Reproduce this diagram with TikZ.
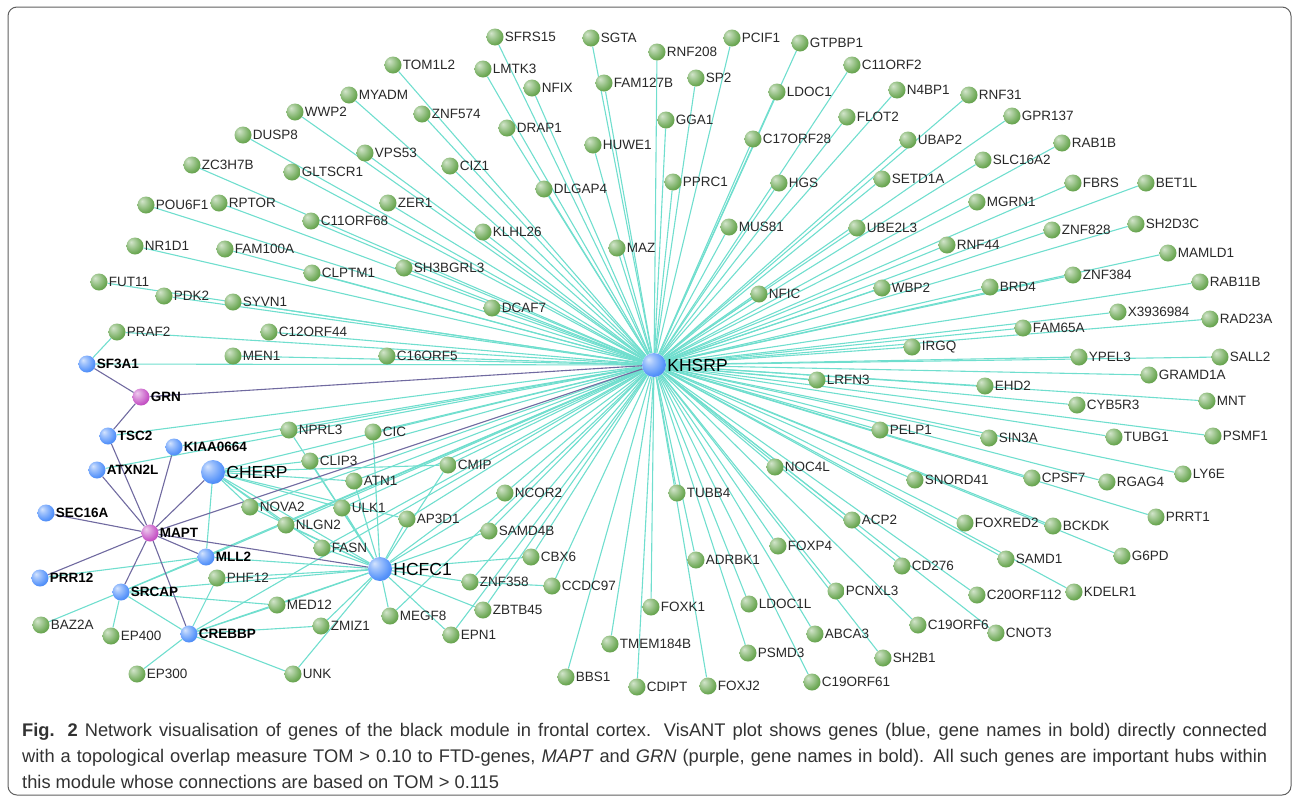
\documentclass[tikz,border=0pt]{standalone}
\usepackage{fontspec}
\setmainfont{Liberation Sans}
\usetikzlibrary{backgrounds}

\definecolor{tomcyan}{RGB}{112,222,206}
\definecolor{ftdline}{RGB}{112,106,160}
\definecolor{genegreen}{RGB}{108,168,84}
\definecolor{hubblue}{RGB}{84,146,250}
\definecolor{ftdpink}{RGB}{198,84,198}
\definecolor{labgray}{RGB}{40,40,40}
\definecolor{capgray}{RGB}{50,50,50}
\definecolor{framegray}{RGB}{95,95,95}

% sphere shadings, light spot at the upper left
\pgfdeclareradialshading{greenball}{\pgfpoint{-12bp}{12bp}}{color(0bp)=(white!70!genegreen); color(10bp)=(genegreen!55!white); color(28bp)=(genegreen); color(45bp)=(genegreen!78!black); color(65bp)=(genegreen!55!black)}
\pgfdeclareradialshading{blueball}{\pgfpoint{-12bp}{12bp}}{color(0bp)=(white!75!hubblue); color(10bp)=(hubblue!55!white); color(28bp)=(hubblue); color(45bp)=(hubblue!82!black); color(65bp)=(hubblue!60!black)}
\pgfdeclareradialshading{pinkball}{\pgfpoint{-12bp}{12bp}}{color(0bp)=(white!70!ftdpink); color(10bp)=(ftdpink!55!white); color(28bp)=(ftdpink); color(45bp)=(ftdpink!78!black); color(65bp)=(ftdpink!55!black)}

\tikzset{
  gene/.style={circle, inner sep=0pt, minimum size=17pt, shading=greenball},
  hub/.style={gene, shading=blueball},
  bighub/.style={hub, minimum size=24pt},
  ftd/.style={gene, shading=pinkball},
  glab/.style={font=\fontsize{13.5}{13.5}\selectfont, text=labgray, inner sep=1pt},
  hlab/.style={font=\fontsize{13.5}{13.5}\selectfont\bfseries, text=black, inner sep=1pt},
  biglab/.style={font=\fontsize{17.5}{17.5}\selectfont, text=black, inner sep=1pt},
  tom/.style={draw=tomcyan, line width=1.1pt},
  ftdedge/.style={draw=ftdline, line width=1.1pt},
  captext/.style={anchor=base west, inner sep=0pt, text=capgray, font=\fontsize{18.3}{26}\selectfont}
}

\begin{document}
\begin{tikzpicture}[x=1pt, y=-1pt]
  \useasboundingbox (0,0) rectangle (1298,801);
  \draw[framegray, line width=1pt, rounded corners=9pt] (8,7) rectangle (1291,795);

  % green genes
  \foreach \n/\x/\y in {TOM1L2/393/65, MYADM/349/95, WWP2/295/112, DUSP8/243/135, ZC3H7B/192/165,
      GLTSCR1/292/172, VPS53/365/153, ZNF574/422/114, CIZ1/450/166, ZER1/388/203, POU6F1/146/205,
      RPTOR/219/203, C11ORF68/311/221, NR1D1/135/246, FAM100A/225/249, SH3BGRL3/404/268,
      CLPTM1/312/273, KLHL26/483/232, SFRS15/495/37, LMTK3/483/69, NFIX/532/88, SGTA/591/38,
      FAM127B/604/83, RNF208/657/52, SP2/696/78, PCIF1/732/38, GTPBP1/800/43, LDOC1/777/92,
      GGA1/666/120, DRAP1/507/128, HUWE1/593/145, C17ORF28/753/139, DLGAP4/544/189, PPRC1/673/182,
      HGS/779/183, MUS81/729/227, MAZ/617/248, C11ORF2/852/65, FLOT2/847/117, UBE2L3/857/228,
      N4BP1/897/90, RNF31/969/95, GPR137/1012/116, UBAP2/908/140, RAB1B/1062/143, SLC16A2/983/160,
      SETD1A/882/179, FBRS/1073/183, BET1L/1146/183, MGRN1/977/202, ZNF828/1052/230, SH2D3C/1136/224,
      RNF44/947/245, MAMLD1/1168/253, WBP2/882/288, BRD4/990/287, ZNF384/1073/275, RAB11B/1200/282,
      X3936984/1118/312, RAD23A/1210/319, FAM65A/1023/328, IRGQ/912/347, YPEL3/1079/357,
      SALL2/1220/357, GRAMD1A/1149/375, EHD2/985/386, MNT/1207/401, CYB5R3/1077/405, PELP1/880/430,
      SIN3A/989/438, TUBG1/1114/437, PSMF1/1213/436, LY6E/1183/474, SNORD41/915/480, CPSF7/1032/478,
      RGAG4/1107/482, DCAF7/492/308, NFIC/759/294, LRFN3/817/380, CMIP/448/465, NCOR2/505/493,
      NOC4L/775/467, TUBB4/677/493, C16ORF5/387/356, FUT11/99/282, PDK2/164/296, SYVN1/233/302,
      PRAF2/117/332, C12ORF44/269/332, MEN1/233/356, NPRL3/289/430, CIC/373/432, CLIP3/310/461,
      ATN1/354/481, NOVA2/250/507, ULK1/342/508, NLGN2/286/525, AP3D1/407/519, FASN/322/548,
      PHF12/217/578, MED12/277/605, BAZ2A/41/625, EP400/111/636, ZMIZ1/321/626, MEGF8/390/616,
      EP300/137/674, UNK/293/674, SAMD4B/489/531, CBX6/531/557, ZNF358/470/582, CCDC97/552/586,
      ZBTB45/483/610, EPN1/451/635, ADRBK1/696/560, FOXP4/778/546, FOXK1/651/607, LDOC1L/749/604,
      PCNXL3/836/591, TMEM184B/610/644, ABCA3/815/634, PSMD3/748/653, BBS1/566/677, CDIPT/637/687,
      FOXJ2/708/686, C19ORF61/812/682, ACP2/852/520, FOXRED2/965/523, BCKDK/1053/526,
      PRRT1/1156/517, G6PD/1122/556, CD276/902/566, SAMD1/1006/559, C20ORF112/977/595,
      KDELR1/1074/592, C19ORF6/918/625, CNOT3/996/633, SH2B1/883/658}
    \node[gene, label={[glab]right:\n}] (\n) at (\x,\y) {};

  % blue hubs
  \foreach \n/\x/\y in {SF3A1/87/364, TSC2/108/436, KIAA0664/174/447, ATXN2L/97/470, SEC16A/46/513,
      MLL2/206/557, PRR12/40/578, SRCAP/121/592, CREBBP/189/634}
    \node[hub, label={[hlab]right:\n}] (\n) at (\x,\y) {};
  \node[bighub, label={[biglab]right:KHSRP}] (KHSRP) at (654,365) {};
  \node[bighub, label={[biglab]right:CHERP}] (CHERP) at (213,472) {};
  \node[bighub, label={[biglab]right:HCFC1}] (HCFC1) at (380,569) {};

  % FTD genes
  \node[ftd, label={[hlab]right:GRN}] (GRN) at (141,397) {};
  \node[ftd, label={[hlab]right:MAPT}] (MAPT) at (150,533) {};

  \begin{scope}[on background layer]
    % KHSRP spokes
    \foreach \n in {TOM1L2,MYADM,WWP2,DUSP8,ZC3H7B,GLTSCR1,VPS53,ZNF574,CIZ1,ZER1,POU6F1,RPTOR,
        C11ORF68,NR1D1,FAM100A,SH3BGRL3,CLPTM1,KLHL26,SFRS15,LMTK3,NFIX,SGTA,FAM127B,RNF208,SP2,
        PCIF1,GTPBP1,LDOC1,GGA1,DRAP1,HUWE1,C17ORF28,DLGAP4,PPRC1,HGS,MUS81,MAZ,C11ORF2,FLOT2,
        UBE2L3,N4BP1,RNF31,GPR137,UBAP2,RAB1B,SLC16A2,SETD1A,FBRS,BET1L,MGRN1,ZNF828,SH2D3C,RNF44,
        MAMLD1,WBP2,BRD4,ZNF384,RAB11B,X3936984,RAD23A,FAM65A,IRGQ,YPEL3,SALL2,GRAMD1A,EHD2,MNT,
        CYB5R3,PELP1,SIN3A,TUBG1,PSMF1,LY6E,SNORD41,CPSF7,RGAG4,DCAF7,NFIC,LRFN3,CMIP,NCOR2,NOC4L,
        TUBB4,C16ORF5,FUT11,PDK2,SYVN1,PRAF2,C12ORF44,MEN1,NPRL3,CIC,CLIP3,ATN1,NOVA2,ULK1,NLGN2,
        AP3D1,FASN,MEGF8,SAMD4B,CBX6,ZNF358,CCDC97,ZBTB45,EPN1,ADRBK1,FOXP4,FOXK1,LDOC1L,PCNXL3,
        TMEM184B,ABCA3,PSMD3,BBS1,CDIPT,FOXJ2,C19ORF61,ACP2,FOXRED2,BCKDK,PRRT1,G6PD,CD276,SAMD1,
        C20ORF112,KDELR1,C19ORF6,CNOT3,SH2B1,SF3A1,TSC2,KIAA0664,ATXN2L,CHERP,MLL2,SRCAP,CREBBP,HCFC1}
      \draw[tom] (KHSRP) -- (\n);

    % HCFC1 and CHERP neighbours
    \foreach \n in {CIC,ATN1,CLIP3,ULK1,NOVA2,NLGN2,FASN,AP3D1,CMIP,NCOR2,SAMD4B,CBX6,ZNF358,
        ZBTB45,EPN1,MEGF8,MED12,ZMIZ1,UNK,PHF12,NPRL3,CHERP,MLL2,SRCAP,CREBBP}
      \draw[tom] (HCFC1) -- (\n);
    \foreach \n in {NOVA2,NLGN2,FASN,ULK1,CLIP3,ATN1,AP3D1,CMIP,MLL2}
      \draw[tom] (CHERP) -- (\n);

    % small cluster
    \draw[tom] (SF3A1) -- (PRAF2);
    \draw[tom] (PRR12) -- (MLL2);
    \draw[tom] (ZNF358) -- (CCDC97);
    \foreach \a/\b in {SRCAP/BAZ2A, SRCAP/EP400, SRCAP/MED12, SRCAP/CREBBP, SRCAP/MLL2,
        CREBBP/EP300, CREBBP/UNK, CREBBP/ZMIZ1, CREBBP/PHF12, CREBBP/MED12}
      \draw[tom] (\a) -- (\b);

    % links of the FTD genes
    \foreach \n in {TSC2,ATXN2L,KIAA0664,CHERP,SEC16A,PRR12,SRCAP,CREBBP,MLL2,HCFC1,KHSRP}
      \draw[ftdedge] (MAPT) -- (\n);
    \draw[ftdedge] (GRN) -- (SF3A1);
    \draw[ftdedge] (GRN) -- (TSC2);
    \draw[ftdedge] (GRN) -- (KHSRP);
  \end{scope}

  % caption
  \node[captext] (cap1) at (22,736) {\makebox[1245pt][s]{\textbf{Fig. 2} Network visualisation of genes of the black module in frontal cortex. VisANT plot shows genes (blue, gene names in bold) directly connected}};
  \node[captext] (cap2) at (22,762) {\makebox[1245pt][s]{with a topological overlap measure TOM > 0.10 to FTD-genes, \textit{MAPT} and \textit{GRN} (purple, gene names in bold). All such genes are important hubs within}};
  \node[captext] (cap3) at (22,788) {this module whose connections are based on TOM > 0.115};
\end{tikzpicture}
\end{document}
